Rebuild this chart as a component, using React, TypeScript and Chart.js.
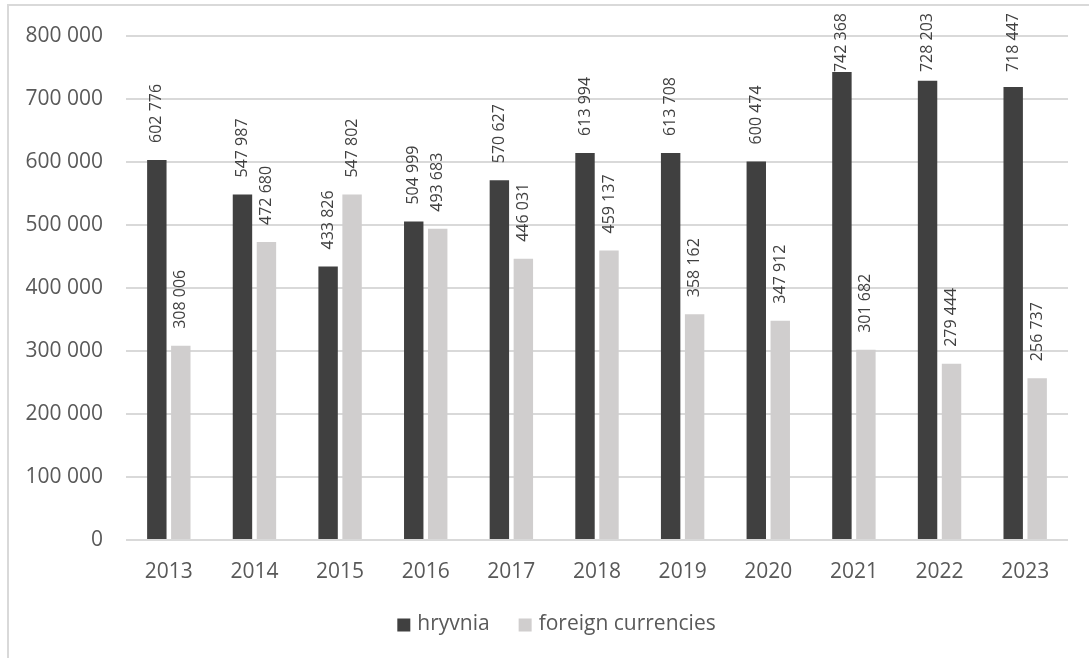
import React, { useEffect, useRef } from 'react';
import { Chart, registerables } from 'chart.js';

Chart.register(...registerables);

const categories = ['2013', '2014', '2015', '2016', '2017', '2018', '2019', '2020', '2021', '2022', '2023'];
const hryvnia = [602776, 547987, 433826, 504999, 570627, 613994, 613708, 600474, 742368, 728203, 718447];
const foreign = [308006, 472680, 547802, 493683, 446031, 459137, 358162, 347912, 301682, 279444, 256737];
const seriesNames = ['hryvnia', 'foreign currencies'];
const seriesColors = ['#404040', '#d0cece'];
const yMin = 0;
const yMax = 800000;
const yStep = 100000;

const FONT = '"Open Sans", "Noto Sans", sans-serif';

const fmt = (v: number) => String(v).replace(/\B(?=(\d{3})+(?!\d))/g, ' ');

const labelPlugin = {
  id: 'barLabels',
  afterDatasetsDraw(chart: any) {
    const ctx = chart.ctx;
    ctx.save();
    ctx.font = `16px ${FONT}`;
    ctx.fillStyle = '#404040';
    chart.data.datasets.forEach((ds: any, di: number) => {
      const meta = chart.getDatasetMeta(di);
      meta.data.forEach((bar: any, i: number) => {
        const text = fmt(ds.data[i]);
        const w = ctx.measureText(text).width;
        let yb = bar.y - 17;
        if (yb - w < 13) yb = 13 + w;
        ctx.save();
        ctx.translate(bar.x, yb);
        ctx.rotate(-Math.PI / 2);
        ctx.textAlign = 'left';
        ctx.textBaseline = 'middle';
        ctx.fillText(text, 0, 0);
        ctx.restore();
      });
    });
    ctx.restore();
  },
};

const legendPlugin = {
  id: 'customLegend',
  afterDraw(chart: any) {
    const ctx = chart.ctx;
    ctx.save();
    ctx.font = `21px ${FONT}`;
    ctx.textBaseline = 'middle';
    ctx.textAlign = 'left';
    const ds = chart.data.datasets;
    const box = 13;
    const gapText = 7;
    const gapItem = 29;
    const widths = ds.map((d: any) => ctx.measureText(d.label).width);
    let total = 0;
    widths.forEach((w: number, i: number) => {
      total += box + gapText + w + (i < widths.length - 1 ? gapItem : 0);
    });
    const cx = chart.width / 2 + 12;
    const cy = chart.chartArea.bottom + 84;
    let x = cx - total / 2;
    ds.forEach((d: any, i: number) => {
      ctx.fillStyle = d.backgroundColor;
      ctx.fillRect(x, cy - box / 2 + 1, box, box);
      x += box + gapText;
      ctx.fillStyle = '#595959';
      ctx.fillText(d.label, x, cy);
      x += widths[i] + gapItem;
    });
    ctx.restore();
  },
};

export default function App() {
  const ref = useRef<HTMLCanvasElement>(null);

  useEffect(() => {
    if (!ref.current) return;
    const chart = new Chart(ref.current, {
      type: 'bar',
      data: {
        labels: categories,
        datasets: [
          {
            label: seriesNames[0],
            data: hryvnia,
            backgroundColor: seriesColors[0],
            categoryPercentage: 0.56,
            barPercentage: 0.81,
          },
          {
            label: seriesNames[1],
            data: foreign,
            backgroundColor: seriesColors[1],
            categoryPercentage: 0.56,
            barPercentage: 0.81,
          },
        ],
      },
      options: {
        animation: false,
        responsive: true,
        maintainAspectRatio: false,
        layout: { padding: { left: 0, right: 21, top: 34, bottom: 0 } },
        plugins: {
          tooltip: { enabled: false },
          legend: { display: false },
        },
        scales: {
          x: {
            grid: { display: false },
            border: { display: false },
            ticks: { color: '#595959', font: { family: FONT, size: 21 }, padding: 11, maxRotation: 0 },
            afterFit: (s: any) => {
              s.height = 118;
            },
          },
          y: {
            min: yMin,
            max: yMax,
            grid: { color: '#d9d9d9', lineWidth: 2, drawTicks: false },
            border: { display: false },
            ticks: {
              stepSize: yStep,
              color: '#595959',
              font: { family: FONT, size: 21 },
              padding: 23,
              callback: (v: any) => fmt(Number(v)),
            },
            afterFit: (s: any) => {
              s.width = 126;
            },
          },
        },
      },
      plugins: [labelPlugin, legendPlugin],
    });
    return () => chart.destroy();
  }, []);

  return (
    <div style={{ position: 'fixed', left: 0, top: 0, width: 1089, height: 658, overflow: 'hidden', background: '#fff' }}>
      <div
        style={{
          position: 'absolute',
          left: 7,
          top: 4,
          width: 1300,
          height: 900,
          border: '2px solid #d9d9d9',
          boxSizing: 'border-box',
        }}
      />
      <div style={{ position: 'absolute', left: 0, top: 0, width: 1089, height: 658 }}>
        <canvas ref={ref} />
      </div>
    </div>
  );
}
